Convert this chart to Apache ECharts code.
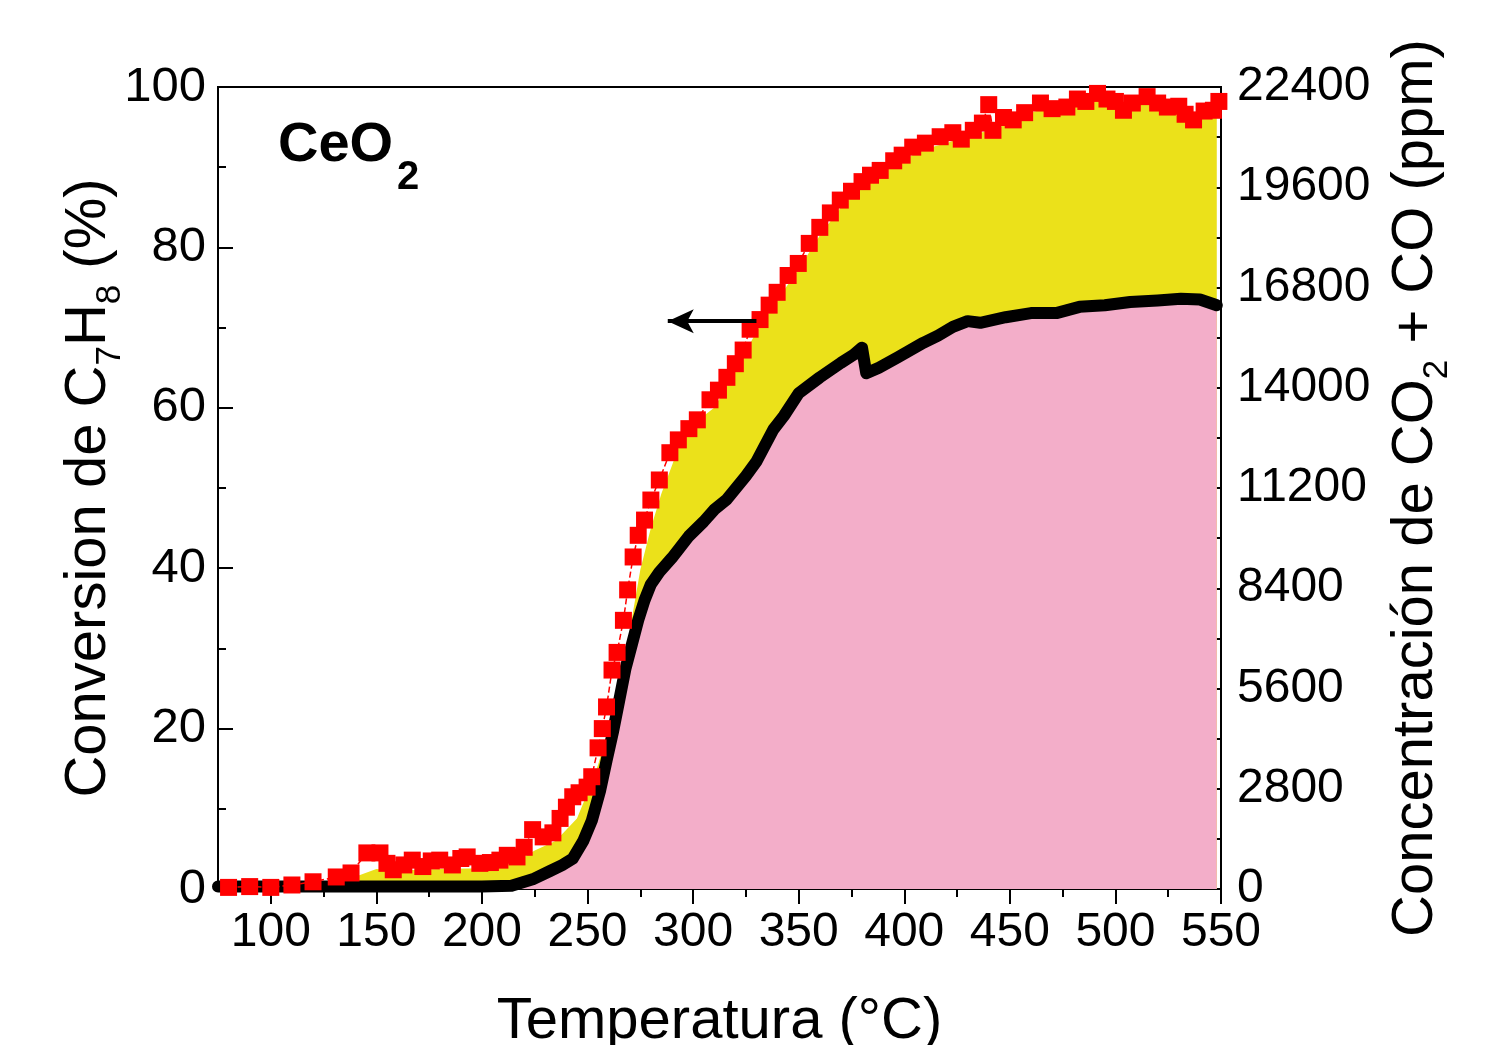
<!DOCTYPE html>
<html>
<head>
<meta charset="utf-8">
<script src="https://cdn.jsdelivr.net/npm/echarts@6/dist/echarts.min.js"></script>
<style>
  html, body { margin: 0; padding: 0; background: #fff; }
  #chart { width: 1497px; height: 1045px; }
</style>
</head>
<body>
<div id="chart"></div>
<script>
// toluene conversion (%), left axis - red squares
const conversionT = [80, 90, 100, 110, 120, 131, 138, 145.5, 151.7, 155, 158, 163, 167, 172, 176, 180, 186, 190, 193, 199,
  204, 208.5, 212, 216.6, 220, 224, 229, 233.6, 237, 240, 243, 246, 249.8, 252, 255, 257, 259, 261.6, 264, 267,
  269, 271.6, 274, 277, 280, 284, 289, 293, 298, 302, 308, 312, 316, 320, 323.7, 327, 331.7, 336, 339.8, 345,
  349.8, 355, 360, 365, 369.7, 375, 380, 384, 388.6, 395, 399, 404, 410, 417, 423, 427, 432.7, 437, 440, 442,
  447, 451.6, 457, 464.5, 470, 477, 482, 486, 491.5, 496, 500, 503.8, 508, 515, 520, 524.6, 530, 533, 537, 542,
  546.4, 549]
const conversionPct = [0.2, 0.3, 0.2, 0.5, 0.9, 1.5, 2.0, 4.5, 4.5, 3.2, 2.4, 3.0, 3.6, 2.8, 3.5, 3.6, 3.0, 3.8, 4.0, 3.2,
  3.3, 3.6, 4.2, 4.0, 5.2, 7.4, 6.5, 7.0, 8.8, 10.2, 11.5, 12.0, 12.7, 14.0, 17.6, 20, 22.7, 27.3, 29.5, 33.5,
  37.3, 41.4, 44.1, 46, 48.5, 51, 54.4, 56, 57.4, 58.5, 61, 62.2, 63.8, 65.5, 67.2, 69.8, 71, 72.8, 74.4, 76.5,
  78, 80.5, 82.5, 84.3, 85.9, 87, 88.2, 89, 89.6, 90.8, 91.5, 92.5, 93, 93.8, 94.3, 93.5, 94.6, 95.5, 97.8, 94.6,
  96.2, 95.9, 96.8, 98, 97.3, 97.5, 98.5, 98.2, 99.2, 98.5, 98.2, 97.1, 98.0, 98.8, 98.0, 97.5, 97.6, 96.6, 95.9, 97.0,
  97.1, 98.2]

// CO2 + CO (ppm), right axis - yellow fill
const totalT = [75, 120, 140, 150, 160, 180, 200, 215, 225, 235, 245, 250, 255, 260, 265, 270, 275, 280, 285, 290,
  295, 300, 310, 320, 330, 340, 350, 360, 370, 380, 390, 400, 410, 420, 430, 440, 450, 460, 470, 480,
  490, 500, 510, 520, 530, 540, 548]
const totalPpm = [0, 70, 340, 560, 515, 560, 580, 720, 1075, 1345, 1970, 2690, 3470, 4480, 5780, 7210, 8915, 10080, 11045, 11830,
  12655, 12990, 13440, 14450, 15570, 16465, 17315, 18255, 19040, 19600, 20050, 20385, 20675, 20830, 21055, 21170, 21390, 21685, 21840, 21950,
  22065, 21905, 21950, 21905, 21795, 21505, 21615]

// CO2 (ppm), right axis - pink fill with black line
const co2T = [75, 100, 150, 200, 214, 224, 232, 238, 243, 248, 252, 256, 259, 262, 265, 268, 271, 274, 277, 280,
  284, 290, 298, 305, 310, 316, 325, 330, 338, 343, 350, 360, 370, 376, 380, 382, 388, 397, 409, 416,
  423, 430, 436, 448, 460, 472, 483, 495, 507, 520, 531, 540, 548]
const co2Ppm = [70, 70, 70, 70, 90, 270, 495, 670, 850, 1345, 1905, 2755, 3585, 4370, 5265, 6160, 6830, 7505, 8065, 8510,
  8850, 9250, 9855, 10260, 10595, 10885, 11535, 11940, 12835, 13215, 13845, 14290, 14695, 14920, 15120, 14405, 14560, 14850, 15255, 15455,
  15700, 15860, 15815, 15970, 16085, 16085, 16260, 16305, 16395, 16440, 16485, 16465, 16305]

const xMajor = [100, 150, 200, 250, 300, 350, 400, 450, 500, 550]
const xMinor = [125, 175, 225, 275, 325, 375, 425, 475, 525]

const FONT = '"Liberation Sans", Arial, Helvetica, sans-serif'
const zip = (a, b) => a.map((v, i) => [v, b[i]])

const axisLine = { show: true, lineStyle: { color: '#000', width: 2 } }
const tickStyle = { color: '#000', width: 2 }
const nameRich = {
  m: { fontSize: 58, fontFamily: FONT, color: '#000', lineHeight: 58, verticalAlign: 'top' },
  s: { fontSize: 35, fontFamily: FONT, color: '#000', lineHeight: 68, verticalAlign: 'bottom' }
}

const chart = echarts.init(document.getElementById('chart'), null, { renderer: 'canvas' })
chart.setOption({
  animation: false,
  backgroundColor: '#fff',
  grid: {
    left: 218, top: 87, width: 1003, height: 802,
    containLabel: false, outerBoundsMode: 'none',
    show: true, borderColor: '#000', borderWidth: 2, backgroundColor: 'transparent'
  },
  xAxis: [
    {
      type: 'value', min: 75, max: 550, position: 'bottom',
      axisLine: axisLine,
      axisTick: { show: true, customValues: xMajor, length: 15, lineStyle: tickStyle },
      axisLabel: { customValues: xMajor, fontSize: 48, color: '#000', fontFamily: FONT, margin: 20 },
      splitLine: { show: false },
      name: 'Temperatura (°C)',
      nameLocation: 'middle',
      nameGap: 104,
      nameMoveOverlap: false,
      nameTextStyle: { fontSize: 58, color: '#000', fontFamily: FONT }
    },
    {
      type: 'value', min: 75, max: 550, position: 'bottom',
      axisLine: { show: false },
      axisTick: { show: true, customValues: xMinor, length: 8, lineStyle: tickStyle },
      axisLabel: { show: false },
      splitLine: { show: false }
    }
  ],
  yAxis: [
    {
      type: 'value', min: 0, max: 100, interval: 20, position: 'left',
      axisLine: axisLine,
      axisTick: { show: true, inside: true, length: 15, lineStyle: tickStyle },
      minorTick: { show: true, splitNumber: 2, length: 8, lineStyle: tickStyle },
      axisLabel: { fontSize: 49, color: '#000', fontFamily: FONT, margin: 12 },
      splitLine: { show: false },
      name: '{m|Conversion de C}{s|7}{m|H}{s|8}{m| (%)}',
      nameLocation: 'middle',
      nameRotate: 90,
      nameGap: 90,
      nameMoveOverlap: false,
      nameTextStyle: { color: '#000', fontFamily: FONT, fontSize: 58, rich: nameRich }
    },
    {
      type: 'value', min: 0, max: 22400, interval: 2800, position: 'right',
      axisLine: axisLine,
      axisTick: { show: true, inside: true, length: 15, lineStyle: tickStyle },
      minorTick: { show: true, splitNumber: 2, length: 8, lineStyle: tickStyle },
      axisLabel: { fontSize: 48, color: '#000', fontFamily: FONT, margin: 16, formatter: v => String(v) },
      splitLine: { show: false },
      name: '{m|Concentración de CO}{s|2}{m| + CO (ppm)}',
      nameLocation: 'middle',
      nameRotate: 90,
      nameGap: 166,
      nameMoveOverlap: false,
      nameTextStyle: { color: '#000', fontFamily: FONT, fontSize: 58, rich: nameRich }
    }
  ],
  series: [
    {
      name: 'CO2 + CO',
      type: 'line',
      xAxisIndex: 0, yAxisIndex: 1,
      data: zip(totalT, totalPpm),
      symbol: 'none',
      lineStyle: { width: 0 },
      areaStyle: { color: '#EBE11A', opacity: 1 },
      z: 1
    },
    {
      name: 'CO2',
      type: 'line',
      xAxisIndex: 0, yAxisIndex: 1,
      data: zip(co2T, co2Ppm),
      symbol: 'none',
      lineStyle: { color: '#000', width: 12, cap: 'round', join: 'round' },
      areaStyle: { color: '#F3AEC9', opacity: 1 },
      z: 2
    },
    {
      name: 'Conversion',
      type: 'line',
      xAxisIndex: 0, yAxisIndex: 0,
      data: zip(conversionT, conversionPct),
      symbol: 'rect',
      symbolSize: 17,
      itemStyle: { color: '#FF0000' },
      lineStyle: { color: '#FF0000', width: 1.5, type: 'dashed' },
      z: 3,
      markLine: {
        silent: true,
        label: { show: false },
        lineStyle: { color: '#000', width: 4, type: 'solid' },
        data: [[
          { coord: [330, 70.8], symbol: 'none' },
          { coord: [288, 70.8], symbol: 'arrow', symbolSize: [18, 26] }
        ]]
      }
    }
  ],
  graphic: [
    { type: 'text', x: 278, y: 146, style: { text: 'CeO', font: 'bold 56px ' + FONT, fill: '#000', align: 'left', verticalAlign: 'middle' } },
    { type: 'text', x: 397, y: 178, style: { text: '2', font: 'bold 40px ' + FONT, fill: '#000', align: 'left', verticalAlign: 'middle' } },
    { type: 'text', x: 1016, y: 213, style: { text: 'CO', font: 'bold 56px ' + FONT, fill: '#000', align: 'center', verticalAlign: 'middle' } },
    { type: 'text', x: 975, y: 523, style: { text: 'CO', font: 'bold 56px ' + FONT, fill: '#000', align: 'left', verticalAlign: 'middle' } },
    { type: 'text', x: 1062, y: 553, style: { text: '2', font: 'bold 40px ' + FONT, fill: '#000', align: 'left', verticalAlign: 'middle' } }
  ]
})
</script>
</body>
</html>
